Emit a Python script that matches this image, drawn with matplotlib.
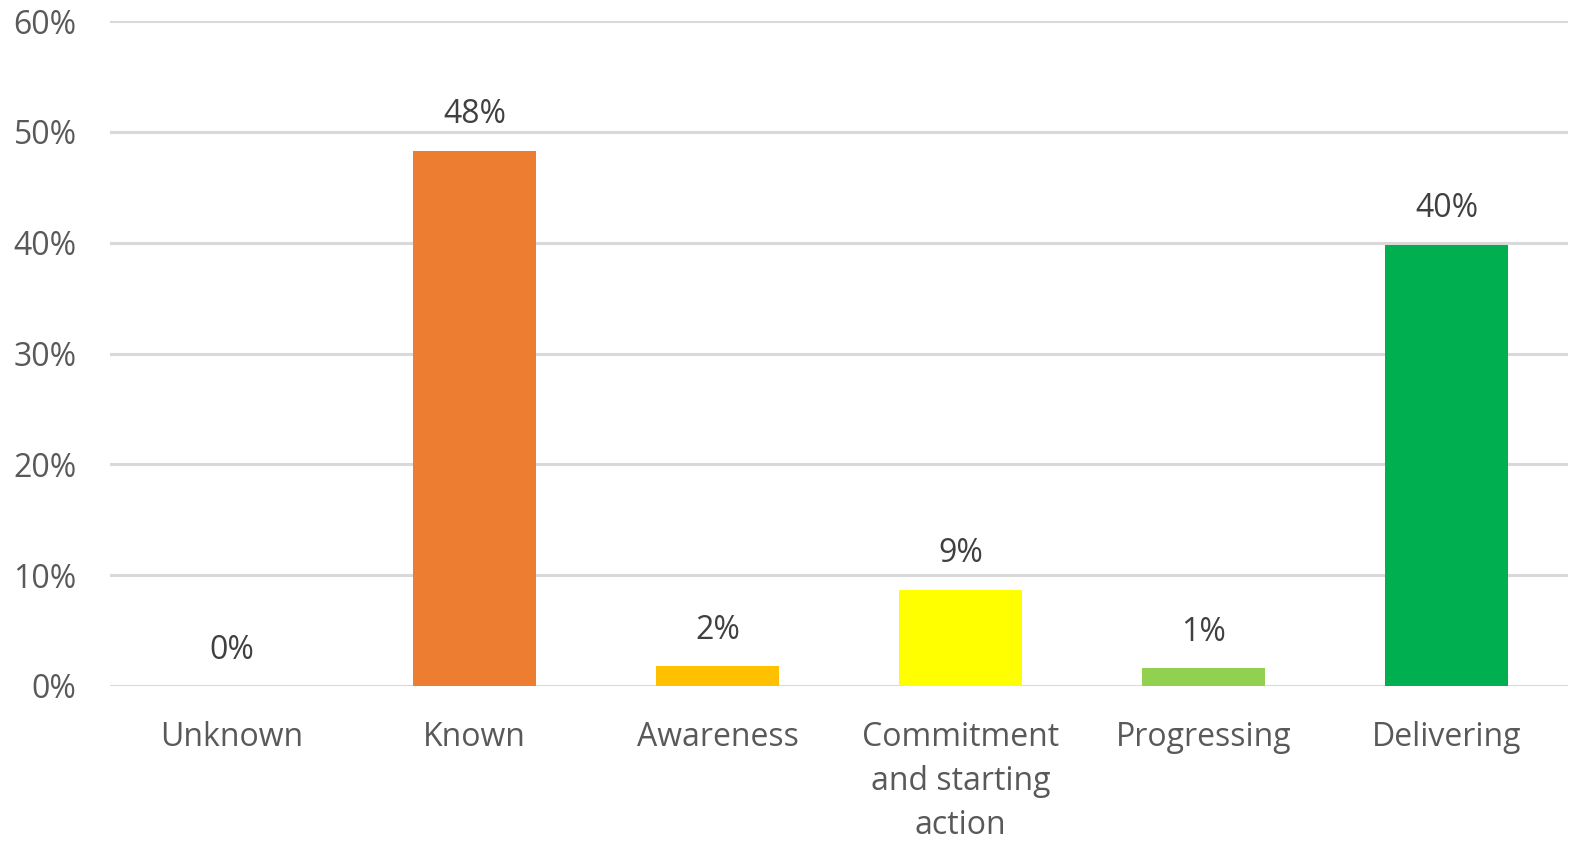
import matplotlib.pyplot as plt
from matplotlib.ticker import PercentFormatter

plt.rcParams['font.family'] = ['Open Sans', 'DejaVu Sans']

# categories and values (%)
categories = ['Unknown', 'Known', 'Awareness', 'Commitment\nand starting\naction',
              'Progressing', 'Delivering']
values = [0.0, 48.3, 1.8, 8.7, 1.6, 39.8]
value_labels = ['0%', '48%', '2%', '9%', '1%', '40%']
colors = ['#A6A6A6', '#ED7D31', '#FFC000', '#FFFF00', '#92D050', '#00B050']

text_color = '#595959'

fig = plt.figure(figsize=(15.83, 8.5), dpi=100)
ax = fig.add_axes([110 / 1583, 164 / 850, 1458 / 1583, 665 / 850])

x = range(len(categories))
bars = ax.bar(x, values, width=0.505, color=colors, zorder=3)

for b, lab in zip(bars, value_labels):
    ax.annotate(lab, (b.get_x() + b.get_width() / 2, b.get_height()),
                xytext=(0, 14), textcoords='offset points',
                ha='center', va='bottom', fontsize=23, color='#404040')

ax.set_xlim(-0.5, len(categories) - 0.5)
ax.set_ylim(0, 60)
ax.set_yticks(range(0, 61, 10))
ax.yaxis.set_major_formatter(PercentFormatter(decimals=0))
ax.set_xticks(list(x))
ax.set_xticklabels(categories, linespacing=1.45)

ax.grid(axis='y', color='#D9D9D9', linewidth=2.2, zorder=0)
for s in ax.spines.values():
    s.set_visible(False)
ax.tick_params(axis='both', length=0, labelsize=23, colors=text_color)
ax.tick_params(axis='y', pad=24)
ax.tick_params(axis='x', pad=25)

fig.savefig('out.png', dpi=100)
